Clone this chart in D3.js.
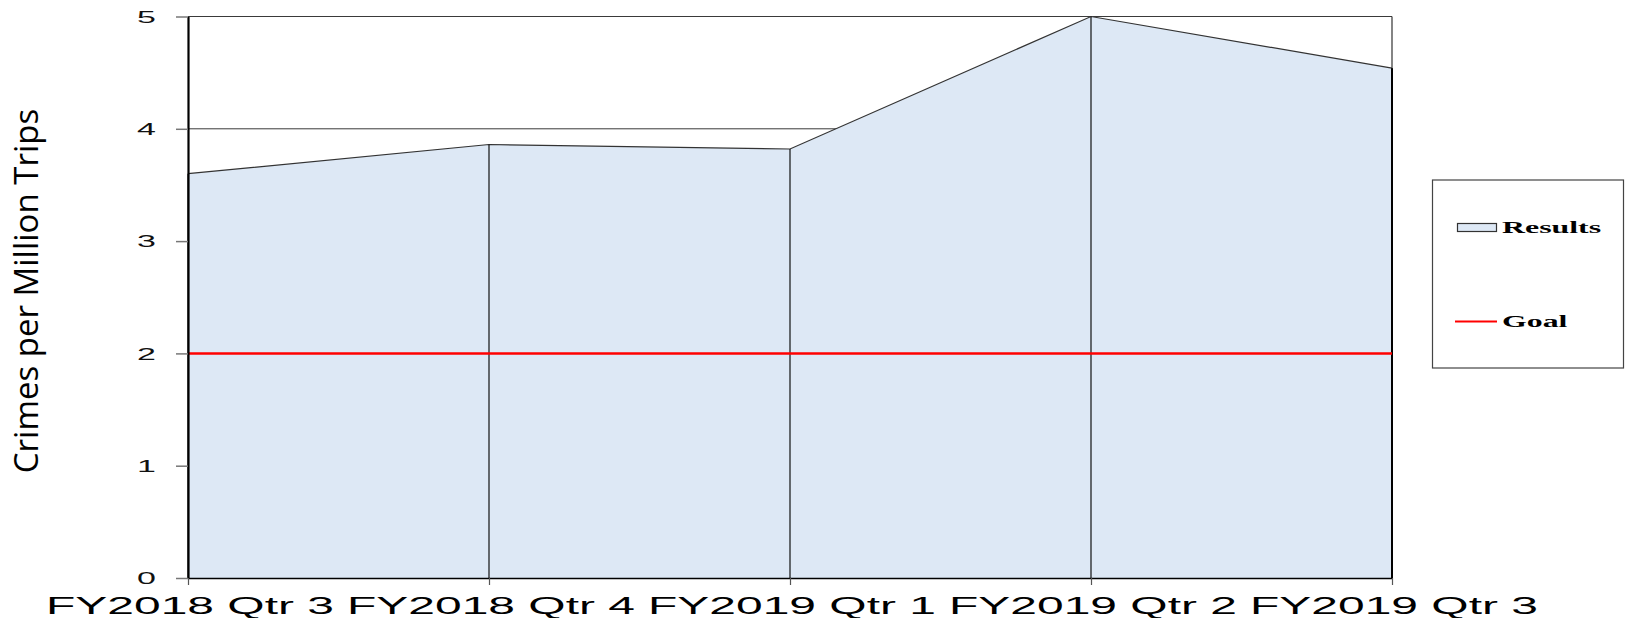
<!DOCTYPE html>
<html><head><meta charset="utf-8">
<script src="https://cdn.jsdelivr.net/npm/d3@7"></script>
<style>body{margin:0;background:#fff}svg{display:block}</style>
</head><body>
<svg id="c" width="1626" height="618"></svg>
<script>
const categories = ["FY2018 Qtr 3","FY2018 Qtr 4","FY2019 Qtr 1","FY2019 Qtr 2","FY2019 Qtr 3"];
const results = [3.6, 3.86, 3.82, 5.0, 4.54];
const goal = [2, 2, 2, 2, 2];
const yTicks = [0, 1, 2, 3, 4, 5];
const yTitle = "Crimes per Million Trips";
const legendLabels = ["Results", "Goal"];

const svg = d3.select("#c");
const L = 188, R = 1392, T = 16.5, B = 578;
const x = d3.scalePoint().domain(categories).range([L, R]);
const y = d3.scaleLinear().domain([0, 5]).range([B, T]);

// gridlines
svg.append("g").selectAll("line").data(yTicks.filter(d => d > 0)).join("line")
  .attr("x1", L).attr("x2", R).attr("y1", d => y(d)).attr("y2", d => y(d))
  .attr("stroke", "#3a3a3a").attr("stroke-width", 1);

// area
const data = categories.map((c, i) => ({c, v: results[i]}));
svg.append("path").datum(data)
  .attr("d", d3.area().x(d => x(d.c)).y0(B).y1(d => y(d.v)))
  .attr("fill", "#dde8f5");
svg.append("path").datum(data)
  .attr("d", d3.line().x(d => x(d.c)).y(d => y(d.v)))
  .attr("fill", "none").attr("stroke", "#333").attr("stroke-width", 1.2);
// droplines
svg.append("g").selectAll("line").data(data).join("line")
  .attr("x1", d => x(d.c)).attr("x2", d => x(d.c)).attr("y1", d => y(d.v)).attr("y2", B)
  .attr("stroke", "#111").attr("stroke-width", 1.2);

// right border
svg.append("line").attr("x1", R).attr("x2", R).attr("y1", T).attr("y2", B)
  .attr("stroke", "#333").attr("stroke-width", 1.2);
svg.append("line").attr("x1", R).attr("x2", R).attr("y1", y(results[results.length-1])).attr("y2", B)
  .attr("stroke", "#000").attr("stroke-width", 2);

// goal line
svg.append("path").datum(categories.map((c, i) => ({c, v: goal[i]})))
  .attr("d", d3.line().x(d => x(d.c)).y(d => y(d.v)))
  .attr("fill", "none").attr("stroke", "#ff0000").attr("stroke-width", 2.5);

// y axis
const ya = svg.append("g").attr("transform", `translate(${L},0)`)
  .call(d3.axisLeft(y).tickValues(yTicks).tickSize(12).tickSizeOuter(0).tickFormat(""));
ya.select(".domain").attr("stroke", "#000").attr("stroke-width", 2.2);
ya.selectAll(".tick line").attr("stroke", "#777").attr("stroke-width", 1.5);
svg.append("g").selectAll("g").data(yTicks).join("g")
  .attr("transform", d => `translate(156,${y(d)}) scale(2,1)`)
  .append("text").attr("text-anchor", "end").attr("dy", "0.36em")
  .attr("font-family", "Liberation Sans, Arial, sans-serif").attr("font-size", 17)
  .attr("fill", "#111").text(d => d);

// x axis
const xa = svg.append("g").attr("transform", `translate(0,${B})`)
  .call(d3.axisBottom(x).tickSize(7).tickSizeOuter(0).tickFormat(""));
xa.select(".domain").attr("stroke", "#000").attr("stroke-width", 1.6);
xa.selectAll(".tick line").attr("stroke", "#555").attr("stroke-width", 1.2);
svg.append("g").selectAll("g").data(categories).join("g")
  .attr("transform", d => `translate(${x(d) + 2},613.5) scale(2,1)`)
  .append("text").attr("text-anchor", "middle")
  .attr("font-family", "Liberation Sans, Arial, sans-serif").attr("font-size", 24)
  .attr("fill", "#000").text(d => d);

// y title
svg.append("text").attr("transform", "translate(38,291) rotate(-90)")
  .attr("text-anchor", "middle").attr("font-family", "Open Sans, sans-serif")
  .attr("font-size", 33).attr("fill", "#000").text(yTitle);

// legend
const lg = svg.append("g");
lg.append("rect").attr("x", 1432.5).attr("y", 180).attr("width", 191).attr("height", 188)
  .attr("fill", "#fff").attr("stroke", "#444").attr("stroke-width", 1.2);
lg.append("rect").attr("x", 1457.5).attr("y", 223.5).attr("width", 39).attr("height", 8)
  .attr("fill", "#dde8f5").attr("stroke", "#333").attr("stroke-width", 1.2);
lg.append("line").attr("x1", 1455).attr("x2", 1497).attr("y1", 321.5).attr("y2", 321.5)
  .attr("stroke", "#ff0000").attr("stroke-width", 2.2);
lg.selectAll("g.lt").data(legendLabels).join("g").attr("class", "lt")
  .attr("transform", (d, i) => `translate(1502,${i === 0 ? 233.3 : 327.3}) scale(1.93,1)`)
  .append("text").attr("font-family", "Liberation Serif, Times New Roman, serif")
  .attr("font-weight", "bold").attr("font-size", 16.5).attr("fill", "#000").text(d => d);
</script>
</body></html>
